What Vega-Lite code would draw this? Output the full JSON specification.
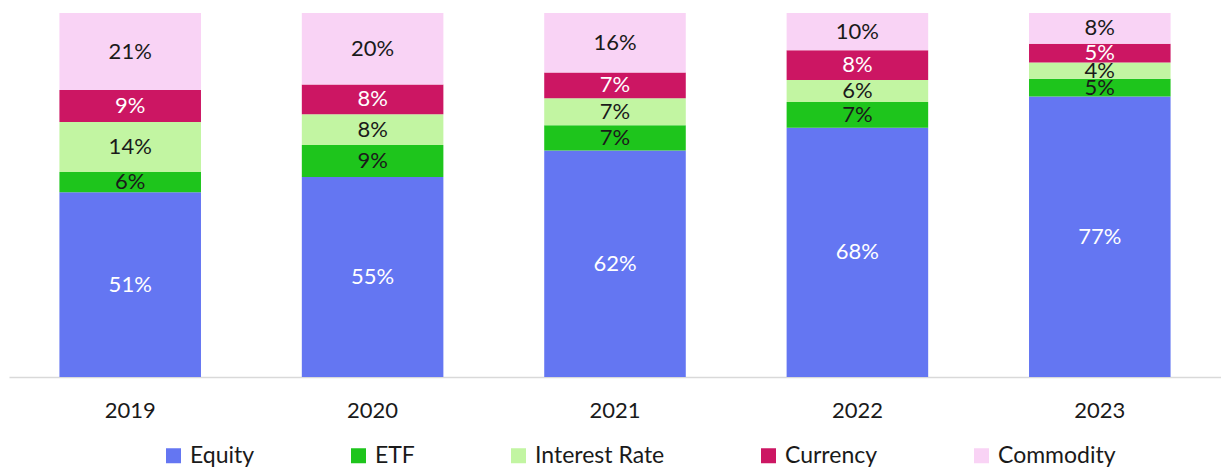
{
  "$schema": "https://vega.github.io/schema/vega-lite/v6.json",
  "width": 1212,
  "height": 364,
  "autosize": {"type": "none"},
  "padding": {"left": 9, "top": 13, "right": 0, "bottom": 91},
  "config": {"view": {"stroke": null}, "font": "Lato"},
  "data": {
    "values": [
      {"year": "2019", "series": "Equity", "k": 1, "value": 0.508},
      {"year": "2019", "series": "ETF", "k": 2, "value": 0.056},
      {"year": "2019", "series": "Interest Rate", "k": 3, "value": 0.137},
      {"year": "2019", "series": "Currency", "k": 4, "value": 0.088},
      {"year": "2019", "series": "Commodity", "k": 5, "value": 0.212},
      {"year": "2020", "series": "Equity", "k": 1, "value": 0.549},
      {"year": "2020", "series": "ETF", "k": 2, "value": 0.088},
      {"year": "2020", "series": "Interest Rate", "k": 3, "value": 0.084},
      {"year": "2020", "series": "Currency", "k": 4, "value": 0.082},
      {"year": "2020", "series": "Commodity", "k": 5, "value": 0.196},
      {"year": "2021", "series": "Equity", "k": 1, "value": 0.621},
      {"year": "2021", "series": "ETF", "k": 2, "value": 0.069},
      {"year": "2021", "series": "Interest Rate", "k": 3, "value": 0.074},
      {"year": "2021", "series": "Currency", "k": 4, "value": 0.071},
      {"year": "2021", "series": "Commodity", "k": 5, "value": 0.163},
      {"year": "2022", "series": "Equity", "k": 1, "value": 0.684},
      {"year": "2022", "series": "ETF", "k": 2, "value": 0.071},
      {"year": "2022", "series": "Interest Rate", "k": 3, "value": 0.060},
      {"year": "2022", "series": "Currency", "k": 4, "value": 0.082},
      {"year": "2022", "series": "Commodity", "k": 5, "value": 0.102},
      {"year": "2023", "series": "Equity", "k": 1, "value": 0.769},
      {"year": "2023", "series": "ETF", "k": 2, "value": 0.049},
      {"year": "2023", "series": "Interest Rate", "k": 3, "value": 0.044},
      {"year": "2023", "series": "Currency", "k": 4, "value": 0.052},
      {"year": "2023", "series": "Commodity", "k": 5, "value": 0.084}
    ]
  },
  "transform": [
    {"stack": "value", "groupby": ["year"], "sort": [{"field": "k", "order": "ascending"}], "offset": "normalize", "as": ["y0", "y1"]},
    {"calculate": "(datum.y0 + datum.y1) / 2", "as": "ymid"}
  ],
  "encoding": {
    "x": {
      "field": "year",
      "type": "ordinal",
      "scale": {"paddingInner": 0.416, "paddingOuter": 0.208},
      "axis": {
        "title": null,
        "labelAngle": 0,
        "labelFontSize": 22,
        "labelColor": "#1a1a1a",
        "labelPadding": 23,
        "ticks": false,
        "domainColor": "#d9d9d9",
        "domainWidth": 1.5
      }
    }
  },
  "layer": [
    {
      "mark": {"type": "bar"},
      "encoding": {
        "y": {"field": "y0", "type": "quantitative", "scale": {"domain": [0, 1]}, "axis": null},
        "y2": {"field": "y1"},
        "color": {
          "field": "series",
          "type": "nominal",
          "scale": {
            "domain": ["Equity", "ETF", "Interest Rate", "Currency", "Commodity"],
            "range": ["#6476f2", "#1ec51c", "#c2f5a2", "#cc1663", "#f9d3f5"]
          },
          "legend": {
            "title": null,
            "orient": "none",
            "legendX": 153,
            "legendY": 431,
            "direction": "horizontal",
            "columns": 5,
            "symbolType": "square",
            "symbolSize": 225,
            "symbolStrokeWidth": 0,
            "labelFontSize": 23,
            "labelColor": "#1a1a1a",
            "labelOffset": 5,
            "columnPadding": 92
          }
        }
      }
    },
    {
      "mark": {"type": "text", "baseline": "middle", "fontSize": 22},
      "encoding": {
        "y": {"field": "ymid", "type": "quantitative", "scale": {"domain": [0, 1]}, "axis": null},
        "text": {"field": "value", "type": "quantitative", "format": ".0%"},
        "color": {
          "field": "series",
          "type": "nominal",
          "scale": {
            "domain": ["Equity", "ETF", "Interest Rate", "Currency", "Commodity"],
            "range": ["#ffffff", "#1a1a1a", "#1a1a1a", "#ffffff", "#1a1a1a"]
          },
          "legend": null
        }
      }
    }
  ],
  "resolve": {"scale": {"color": "independent"}}
}
